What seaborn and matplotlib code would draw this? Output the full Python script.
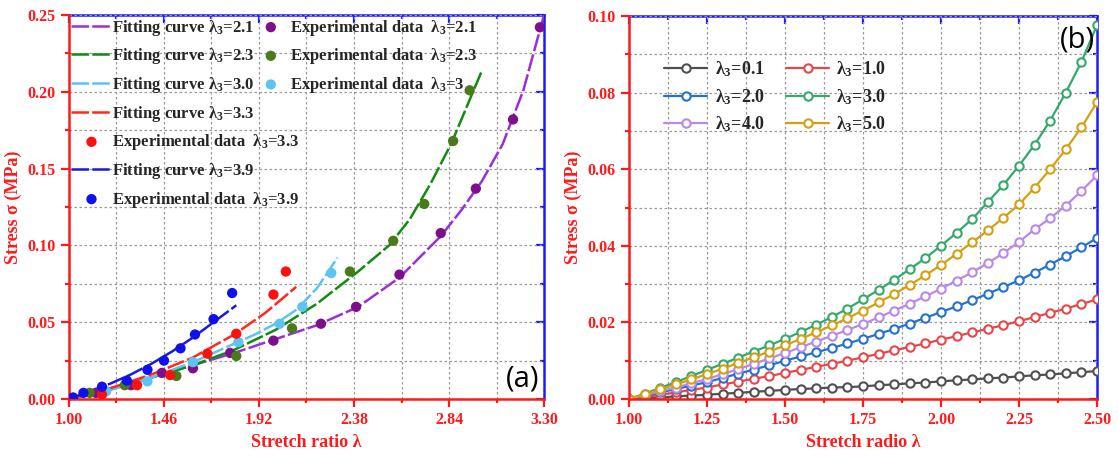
import numpy as np
import pandas as pd
import matplotlib
matplotlib.use('Agg')
import matplotlib.pyplot as plt
from matplotlib.ticker import MultipleLocator, FixedLocator, FormatStrFormatter, NullFormatter
import seaborn as sns

# ---- panel (a): experimental data ----
exp21_x = [1.00, 1.13, 1.30, 1.45, 1.60, 1.78, 1.99, 2.22, 2.39, 2.60, 2.80, 2.97, 3.15, 3.28]
exp21_y = [0.000, 0.004, 0.009, 0.017, 0.020, 0.030, 0.038, 0.049, 0.060, 0.081, 0.108, 0.137, 0.182, 0.242]
exp23_x = [1.10, 1.27, 1.52, 1.81, 2.08, 2.36, 2.57, 2.72, 2.86, 2.94]
exp23_y = [0.004, 0.009, 0.015, 0.028, 0.046, 0.083, 0.103, 0.127, 0.168, 0.201]
exp30_x = [1.18, 1.38, 1.60, 1.82, 2.02, 2.13, 2.27]
exp30_y = [0.005, 0.0115, 0.024, 0.037, 0.049, 0.060, 0.082]
exp33_x = [1.16, 1.33, 1.49, 1.67, 1.81, 1.99, 2.05]
exp33_y = [0.003, 0.009, 0.0156, 0.0295, 0.0425, 0.068, 0.083]
exp39_x = [1.02, 1.07, 1.16, 1.28, 1.38, 1.46, 1.54, 1.61, 1.70, 1.79]
exp39_y = [0.001, 0.004, 0.008, 0.012, 0.019, 0.025, 0.033, 0.042, 0.052, 0.069]

# ---- panel (a): fitting curves ----
fit21_x = [1.0, 1.2, 1.4, 1.6, 1.8, 2.0, 2.2, 2.4, 2.6, 2.8, 2.9, 3.0, 3.1, 3.2, 3.3]
fit21_y = [0, 0.006, 0.014, 0.022, 0.030, 0.039, 0.048, 0.060, 0.079, 0.106, 0.123, 0.142, 0.166, 0.201, 0.250]
fit23_x = [1.0, 1.2, 1.4, 1.6, 1.8, 2.0, 2.2, 2.4, 2.55, 2.65, 2.75, 2.85, 2.95, 3.0]
fit23_y = [0, 0.007, 0.014, 0.022, 0.032, 0.045, 0.062, 0.083, 0.100, 0.117, 0.140, 0.166, 0.198, 0.214]
fit30_x = [1.0, 1.2, 1.4, 1.6, 1.8, 1.9, 2.0, 2.1, 2.2, 2.3]
fit30_y = [0, 0.006, 0.014, 0.024, 0.036, 0.042, 0.049, 0.058, 0.072, 0.092]
fit33_x = [1.0, 1.2, 1.4, 1.6, 1.8, 1.95, 2.1]
fit33_y = [0, 0.007, 0.016, 0.027, 0.042, 0.056, 0.073]
fit39_x = [1.0, 1.1, 1.2, 1.3, 1.4, 1.5, 1.6, 1.7, 1.81]
fit39_y = [0, 0.005, 0.010, 0.016, 0.023, 0.031, 0.040, 0.050, 0.061]

# tick positions of panel (a) x axis
xticks_a = [1.00, 1.46, 1.92, 2.38, 2.84, 3.30]
xminor_a = [1.23, 1.69, 2.15, 2.61, 3.07]

# ---- panel (b): model curves, one marker every 0.05 ----
lam_b = [1.00, 1.05, 1.10, 1.15, 1.20, 1.25, 1.30, 1.35, 1.40, 1.45, 1.50,
         1.55, 1.60, 1.65, 1.70, 1.75, 1.80, 1.85, 1.90, 1.95, 2.00,
         2.05, 2.10, 2.15, 2.20, 2.25, 2.30, 2.35, 2.40, 2.45, 2.50]
s_01 = [0.0000, 0.0002, 0.0004, 0.0007, 0.0009, 0.0011, 0.0014, 0.0016, 0.0019, 0.0021, 0.0024,
        0.0026, 0.0028, 0.0030, 0.0031, 0.0033, 0.0036, 0.0038, 0.0041, 0.0043, 0.0046,
        0.0049, 0.0051, 0.0054, 0.0056, 0.0059, 0.0062, 0.0064, 0.0067, 0.0070, 0.0073]
s_10 = [0.0000, 0.0005, 0.0011, 0.0017, 0.0024, 0.0030, 0.0038, 0.0045, 0.0053, 0.0060, 0.0068,
        0.0076, 0.0084, 0.0092, 0.0100, 0.0109, 0.0118, 0.0127, 0.0136, 0.0145, 0.0155,
        0.0164, 0.0174, 0.0183, 0.0193, 0.0203, 0.0214, 0.0225, 0.0236, 0.0248, 0.0260]
s_20 = [0.0000, 0.0008, 0.0017, 0.0026, 0.0035, 0.0044, 0.0055, 0.0066, 0.0077, 0.0088, 0.0100,
        0.0111, 0.0122, 0.0133, 0.0145, 0.0157, 0.0170, 0.0183, 0.0197, 0.0212, 0.0227,
        0.0242, 0.0258, 0.0275, 0.0292, 0.0310, 0.0330, 0.0351, 0.0373, 0.0396, 0.0420]
s_30 = [0.0000, 0.0014, 0.0029, 0.0044, 0.0060, 0.0076, 0.0092, 0.0108, 0.0124, 0.0140, 0.0157,
        0.0175, 0.0194, 0.0214, 0.0236, 0.0260, 0.0285, 0.0311, 0.0339, 0.0368, 0.0400,
        0.0434, 0.0470, 0.0514, 0.0559, 0.0609, 0.0664, 0.0727, 0.0800, 0.0880, 0.0976]
s_40 = [0.0000, 0.0010, 0.0020, 0.0030, 0.0041, 0.0052, 0.0065, 0.0078, 0.0092, 0.0106, 0.0120,
        0.0135, 0.0150, 0.0165, 0.0180, 0.0196, 0.0213, 0.0231, 0.0249, 0.0268, 0.0288,
        0.0309, 0.0331, 0.0355, 0.0381, 0.0410, 0.0443, 0.0472, 0.0505, 0.0543, 0.0584]
s_50 = [0.0000, 0.0012, 0.0025, 0.0038, 0.0051, 0.0065, 0.0079, 0.0094, 0.0109, 0.0124, 0.0140,
        0.0157, 0.0174, 0.0192, 0.0211, 0.0231, 0.0252, 0.0274, 0.0298, 0.0323, 0.0350,
        0.0379, 0.0409, 0.0440, 0.0473, 0.0508, 0.0552, 0.0600, 0.0652, 0.0709, 0.0775]

sns.set_theme(style='ticks')
plt.rcParams['font.family'] = ['Liberation Serif', 'DejaVu Serif']
plt.rcParams['font.weight'] = 'bold'
plt.rcParams['mathtext.fontset'] = 'custom'
plt.rcParams['mathtext.rm'] = 'Liberation Serif:bold'
plt.rcParams['mathtext.it'] = 'Liberation Serif:bold'
plt.rcParams['mathtext.default'] = 'rm'

RED = '#ff1a1a'
BLUE = '#1a1aff'
L3 = 'λ$_3$'


def style_axes(ax, xmaj, xmin, ymaj, ymin, xlim, ylim, xlabel):
    ax.set_xlim(*xlim)
    ax.set_ylim(*ylim)
    ax.xaxis.set_major_locator(FixedLocator(xmaj))
    ax.xaxis.set_minor_locator(FixedLocator(xmin))
    ax.yaxis.set_major_locator(MultipleLocator(ymaj))
    ax.yaxis.set_minor_locator(MultipleLocator(ymin))
    ax.xaxis.set_major_formatter(FormatStrFormatter('%.2f'))
    ax.yaxis.set_major_formatter(FormatStrFormatter('%.2f'))
    ax.grid(which='both', linestyle=(0, (2, 2)), color='#9a9a9a', linewidth=0.9)
    ax.set_axisbelow(True)
    for s in ['left', 'bottom']:
        ax.spines[s].set_color(RED)
        ax.spines[s].set_linewidth(1.8)
    for s in ['top', 'right']:
        ax.spines[s].set_visible(False)
    ax.tick_params(which='both', direction='out', color=RED, labelcolor=RED,
                   width=1.6, labelsize=11.5)
    ax.tick_params(which='major', length=6)
    ax.tick_params(which='minor', length=3)
    for lab in ax.get_xticklabels() + ax.get_yticklabels():
        lab.set_fontweight('bold')
    ax.set_xlabel(xlabel, color=RED, fontsize=13, fontweight='bold', labelpad=4)
    ax.set_ylabel('Stress σ (MPa)', color=RED, fontsize=13, fontweight='bold', labelpad=4)

    top = ax.secondary_xaxis('top')
    top.xaxis.set_major_locator(FixedLocator(xmaj))
    top.xaxis.set_minor_locator(FixedLocator(xmin))
    top.xaxis.set_major_formatter(NullFormatter())
    top.tick_params(which='both', direction='in', color=BLUE, width=1.6)
    top.tick_params(which='major', length=6)
    top.tick_params(which='minor', length=3)
    top.spines['top'].set_color(BLUE)
    top.spines['top'].set_linewidth(1.8)
    right = ax.secondary_yaxis('right')
    right.yaxis.set_major_locator(MultipleLocator(ymaj))
    right.yaxis.set_minor_locator(MultipleLocator(ymin))
    right.yaxis.set_major_formatter(NullFormatter())
    right.tick_params(which='both', direction='in', color=BLUE, width=1.6)
    right.tick_params(which='major', length=6)
    right.tick_params(which='minor', length=3)
    right.spines['right'].set_color(BLUE)
    right.spines['right'].set_linewidth(1.8)


fig = plt.figure(figsize=(11.18, 4.59), dpi=100)
ax1 = fig.add_axes([0.0617, 0.1307, 0.4249, 0.8366])
ax2 = fig.add_axes([0.5626, 0.1307, 0.4186, 0.8344])

# ---- panel (a) ----
fits = [
    (fit21_x, fit21_y, '#9a2fd6', '2.1'),
    (fit23_x, fit23_y, '#118c11', '2.3'),
    (fit30_x, fit30_y, '#5cc3f2', '3.0'),
    (fit33_x, fit33_y, '#ff2a1a', '3.3'),
    (fit39_x, fit39_y, '#1a1ae0', '3.9'),
]
exps = [
    (exp21_x, exp21_y, '#7d0f8a', '2.1'),
    (exp23_x, exp23_y, '#4b7a1a', '2.3'),
    (exp30_x, exp30_y, '#5cc3f2', '3'),
    (exp33_x, exp33_y, '#ff1010', '3.3'),
    (exp39_x, exp39_y, '#1010e8', '3.9'),
]
fit_h = []
for x, y, c, lab in fits:
    sns.lineplot(x=x, y=y, ax=ax1, color=c, linewidth=1.8, sort=False,
                 dashes=False, legend=False)
    ax1.lines[-1].set_dashes((7, 1.3))
    fit_h.append((ax1.lines[-1], f'Fitting curve {L3}={lab}'))
exp_h = []
for x, y, c, lab in exps:
    sns.scatterplot(x=x, y=y, ax=ax1, color=c, s=55, edgecolor='none', legend=False, zorder=3)
    exp_h.append((ax1.collections[-1], f'Experimental data  {L3}={lab}'))

style_axes(ax1, xticks_a, xminor_a, 0.05, 0.025, (1.0, 3.3), (0, 0.25), 'Stretch ratio λ')

h1 = [fit_h[0], fit_h[1], fit_h[2], fit_h[3], exp_h[3], fit_h[4], exp_h[4]]
leg1 = ax1.legend([h for h, _ in h1], [t for _, t in h1], loc='upper left',
                  bbox_to_anchor=(0.0, 1.0), frameon=False,
                  handlelength=2.4, handletextpad=0.05, borderaxespad=0.0,
                  borderpad=0.15, labelspacing=0.52, prop={'weight': 'bold', 'size': 12})
ax1.add_artist(leg1)
h2 = exp_h[:3]
ax1.legend([h for h, _ in h2], [t for _, t in h2], loc='upper left',
           bbox_to_anchor=(0.395, 1.0), frameon=False,
           handlelength=1.4, handletextpad=0.45, borderaxespad=0.0,
           borderpad=0.15, labelspacing=0.52, prop={'weight': 'bold', 'size': 12})
ax1.text(0.99, 0.015, '(a)', transform=ax1.transAxes, ha='right', va='bottom',
         fontsize=21, family='Open Sans', fontweight='normal', color='black')

# ---- panel (b) ----
curves = [
    (s_01, '#505050', '0.1'),
    (s_10, '#e8474a', '1.0'),
    (s_20, '#2472cc', '2.0'),
    (s_30, '#35a86b', '3.0'),
    (s_40, '#b88ae6', '4.0'),
    (s_50, '#d4a012', '5.0'),
]
df_b = pd.DataFrame({'lam': lam_b * len(curves),
                     'stress': sum([c[0] for c in curves], []),
                     'series': sum([[f'{L3}={c[2]}'] * len(lam_b) for c in curves], [])})
palette = {f'{L3}={c[2]}': c[1] for c in curves}
sns.lineplot(data=df_b, x='lam', y='stress', hue='series', palette=palette, ax=ax2,
             marker='o', markersize=6, markerfacecolor='white', markeredgewidth=1.5,
             linewidth=1.6, legend=False)
for ln, c in zip(ax2.lines, curves):
    ln.set_markeredgecolor(c[1])
    ln.set_label(f'{L3}={c[2]}')

style_axes(ax2, [1.00, 1.25, 1.50, 1.75, 2.00, 2.25, 2.50],
           [1.125, 1.375, 1.625, 1.875, 2.125, 2.375], 0.02, 0.01,
           (1.0, 2.5), (0, 0.10), 'Stretch radio λ')

lines_b = ax2.lines[:6]
# row-wise order: (0.1, 1.0), (2.0, 3.0), (4.0, 5.0)
order = [0, 2, 4, 1, 3, 5]
ax2.legend(handles=[lines_b[i] for i in order], loc='upper left', bbox_to_anchor=(0.04, 0.93),
           ncol=2, frameon=False, handlelength=2.4, handletextpad=0.4,
           columnspacing=1.2, labelspacing=0.45, prop={'weight': 'bold', 'size': 13})
ax2.text(0.995, 0.975, '(b)', transform=ax2.transAxes, ha='right', va='top',
         fontsize=21, family='Open Sans', fontweight='normal', color='black')

fig.savefig('out.png', dpi=100)
